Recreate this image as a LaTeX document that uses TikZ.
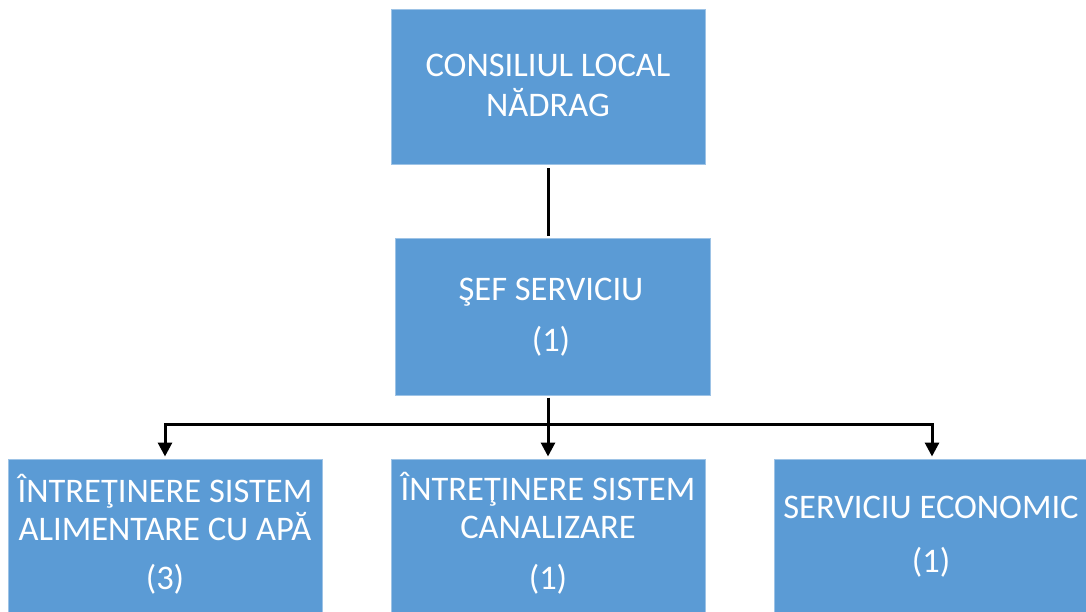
\documentclass[tikz,border=0pt]{standalone}
\usepackage{fontspec}
\setmainfont{Carlito}
\usetikzlibrary{arrows.meta,calc}
\definecolor{boxblue}{HTML}{5B9BD5}
\definecolor{boxedge}{HTML}{9DC3E6}
\tikzset{
  orgbox/.style={draw=boxedge, line width=1pt, fill=boxblue, minimum width=#1, minimum height=155pt, inner sep=0pt},
  orgbox/.default=314pt,
  lbl/.style={anchor=base, text=white, font=\fontsize{34.5}{41}\selectfont, inner sep=0pt},
  conn/.style={line width=3pt, draw=black},
  arr/.style={conn, -{Triangle[width=14pt,length=14pt]}}
}
\begin{document}
\begin{tikzpicture}[x=1pt,y=-1pt]
\useasboundingbox (0,0) rectangle (1086,612);
\clip (0,0) rectangle (1086,612);
% boxes
\node[orgbox] (top) at (548,87.5) {};
\node[orgbox=315pt, minimum height=156pt] (mid) at (552.5,317) {};
\node[orgbox] (b1) at (165,536.5) {};
\node[orgbox] (b2) at (548,536.5) {};
\node[orgbox] (b3) at (931.5,536.5) {};
% texts
\node[lbl] (t1a) at (548,77) {CONSILIUL LOCAL};
\node[lbl] (t1b) at (548,117) {NĂDRAG};
\node[lbl] (t2a) at (551,300) {ŞEF SERVICIU};
\node[lbl] (t2b) at (551,351) {(1)};
\node[lbl] (t3a) at (165,502) {ÎNTREŢINERE SISTEM};
\node[lbl] (t3b) at (165,540) {ALIMENTARE CU APĂ};
\node[lbl] (t3c) at (165,589) {(3)};
\node[lbl] (t4a) at (548,500) {ÎNTREŢINERE SISTEM};
\node[lbl] (t4b) at (548,538) {CANALIZARE};
\node[lbl] (t4c) at (548,589) {(1)};
\node[lbl] (t5a) at (931,518) {SERVICIU ECONOMIC};
\node[lbl] (t5b) at (931,572) {(1)};
% connectors
\coordinate (bus) at (548,424);
\draw[conn, shorten <=3pt, shorten >=2pt] (top.south) -- (top.south |- mid.north);
\draw[conn, shorten <=2pt] (bus |- mid.south) -- (bus);
\draw[arr, shorten >=2pt] (bus) -| (b1.north);
\draw[arr, shorten >=2pt] (bus) -- (b2.north);
\draw[arr, shorten >=2pt] (bus) -| ($(b3.north)+(0.5,0)$);
\end{tikzpicture}
\end{document}
